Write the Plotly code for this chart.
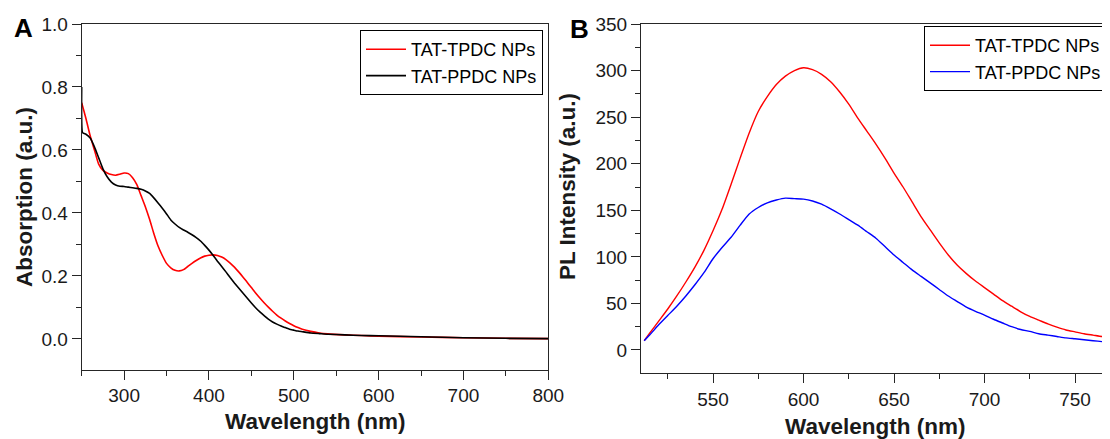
import plotly.graph_objects as go

W, H = 1110, 439
OFF = 8  # page body margin in the browser


def px(x):
    return (x - OFF) / W


def py(y):
    return 1 - (y - OFF) / H


# ---------------- Panel A: absorption ----------------
abs_wavelength = [250, 251, 255, 260, 265, 270, 275, 280, 285, 290, 295, 300, 305, 310, 315,
                  320, 325, 330, 335, 340, 345, 350, 355, 360, 365, 370, 375, 380, 385, 390,
                  395, 400, 405, 410, 415, 420, 425, 430, 435, 440, 445, 450, 455, 460, 465,
                  470, 475, 480, 485, 490, 495, 500, 505, 510, 520, 530, 540, 560, 580, 600,
                  650, 700, 750, 800]
abs_tpdc = [0.75, 0.74, 0.70, 0.645, 0.60, 0.555, 0.535, 0.527, 0.522, 0.52, 0.523, 0.527, 0.525,
            0.512, 0.49, 0.455, 0.42, 0.38, 0.335, 0.295, 0.265, 0.24, 0.226, 0.218, 0.216, 0.22,
            0.23, 0.24, 0.249, 0.257, 0.263, 0.266, 0.267, 0.265, 0.26, 0.252, 0.241, 0.228,
            0.213, 0.197, 0.18, 0.163, 0.146, 0.13, 0.115, 0.101, 0.088, 0.076, 0.066, 0.057,
            0.049, 0.042, 0.036, 0.031, 0.024, 0.019, 0.016, 0.013, 0.011, 0.009, 0.006, 0.004,
            0.002, 0.001]
abs_ppdc = [0.80, 0.655, 0.65, 0.638, 0.61, 0.575, 0.54, 0.515, 0.498, 0.489, 0.485, 0.484, 0.482,
            0.48, 0.478, 0.475, 0.47, 0.462, 0.448, 0.432, 0.415, 0.397, 0.378, 0.365, 0.354,
            0.346, 0.339, 0.331, 0.322, 0.311, 0.297, 0.282, 0.265, 0.247, 0.23, 0.213, 0.195,
            0.178, 0.162, 0.146, 0.13, 0.114, 0.099, 0.086, 0.074, 0.063, 0.054, 0.047, 0.041,
            0.036, 0.031, 0.028, 0.025, 0.023, 0.019, 0.017, 0.015, 0.013, 0.011, 0.01, 0.007,
            0.004, 0.002, 0.001]

# ---------------- Panel B: photoluminescence ----------------
pl_wavelength = [512, 515, 520, 525, 530, 535, 540, 545, 550, 555, 560, 565, 570, 575, 580, 585,
                 590, 595, 600, 605, 610, 615, 620, 625, 630, 635, 640, 645, 650, 655, 660, 665,
                 670, 675, 680, 685, 690, 695, 700, 705, 710, 715, 720, 725, 730, 735, 740, 745,
                 750, 755, 760, 765, 770, 775]
pl_tpdc = [10, 18, 31, 44, 58, 73, 89, 107, 128, 151, 178, 206, 233, 256, 272, 285, 294, 300, 303,
           301, 296, 288, 277, 264, 249, 235, 221, 206, 190, 175, 159, 143, 129, 115, 102, 91, 82,
           74, 67, 60, 53, 47, 41, 36, 32, 28, 24.5, 21.5, 19.5, 17.5, 16, 14.5, 13.5, 12.5]
pl_ppdc = [10, 16, 27, 37, 47, 58, 70, 83, 98, 110, 121, 134, 146, 153, 158, 161, 163, 162.5, 162,
           160, 156.5, 151.5, 146, 140, 134, 127, 120, 111, 102, 94, 86, 79, 72, 65, 58, 52, 46,
           41.5, 37.5, 33, 29, 25, 22, 20, 17.5, 16, 14.5, 13, 12, 11, 10, 9, 8, 7.5]

legend_names = ["TAT-TPDC NPs", "TAT-PPDC NPs"]

FONT = "Liberation Sans, Arial, Helvetica, sans-serif"
AX = "#262626"
TXT = "#1a1a1a"

fig = go.Figure()
fig.add_trace(go.Scatter(x=abs_wavelength, y=abs_tpdc, mode="lines", name=legend_names[0],
                         line=dict(color="#ff0000", width=1.6, shape="spline", smoothing=0.6),
                         xaxis="x", yaxis="y", legend="legend"))
fig.add_trace(go.Scatter(x=abs_wavelength, y=abs_ppdc, mode="lines", name=legend_names[1],
                         line=dict(color="#000000", width=1.6, shape="spline", smoothing=0.4),
                         xaxis="x", yaxis="y", legend="legend"))
fig.add_trace(go.Scatter(x=pl_wavelength, y=pl_tpdc, mode="lines", name=legend_names[0],
                         line=dict(color="#ff0000", width=1.4, shape="spline", smoothing=0.6),
                         xaxis="x2", yaxis="y2", legend="legend2"))
fig.add_trace(go.Scatter(x=pl_wavelength, y=pl_ppdc, mode="lines", name=legend_names[1],
                         line=dict(color="#0000ff", width=1.4, shape="spline", smoothing=0.6),
                         xaxis="x2", yaxis="y2", legend="legend2"))

common = dict(showgrid=False, zeroline=False, showline=True, linecolor=AX, linewidth=1,
              ticks="outside", ticklen=9, tickwidth=1, tickcolor=AX, automargin=False,
              tickfont=dict(family=FONT, size=19, color=TXT))

# right panel x axis: 550 nm at 713 px, 1.81 px per nm; it runs off the right edge
x2_lo = 550 + (641 - 713) / 1.81
x2_hi = 550 + (W + OFF - 713) / 1.81

fig.update_layout(
    width=W, height=H,
    margin=dict(l=0, r=0, t=0, b=0, autoexpand=False),
    paper_bgcolor="white", plot_bgcolor="white",
    font=dict(family=FONT, color=TXT),
    xaxis=dict(domain=[px(81.7), px(548.3)], range=[250, 800], dtick=100, tick0=0,
               mirror=True, anchor="y",
               minor=dict(ticks="outside", ticklen=5, dtick=50, tick0=0, tickcolor=AX, tickwidth=1),
               **common),
    yaxis=dict(domain=[py(369.5), py(24)], range=[-0.097, 1.0], dtick=0.2, tick0=0,
               tickformat=".1f", mirror=True, anchor="x",
               minor=dict(ticks="outside", ticklen=5, dtick=0.1, tick0=0, tickcolor=AX, tickwidth=1),
               **common),
    xaxis2=dict(domain=[px(641), 1.0], range=[x2_lo, x2_hi], dtick=50, tick0=0,
                mirror=True, anchor="y2",
                minor=dict(ticks="outside", ticklen=5, dtick=25, tick0=0, tickcolor=AX, tickwidth=1),
                **common),
    yaxis2=dict(domain=[py(373), py(24)], range=[-24.7, 350], dtick=50, tick0=0,
                mirror=False, anchor="x2",
                minor=dict(ticks="outside", ticklen=5, dtick=25, tick0=0, tickcolor=AX, tickwidth=1),
                **common),
    legend=dict(x=px(543), y=py(30), xanchor="right", yanchor="top",
                bordercolor="#000000", borderwidth=1, bgcolor="white",
                font=dict(family=FONT, size=18, color="#000"), itemwidth=40, tracegroupgap=0),
    legend2=dict(x=px(1107), y=py(26), xanchor="right", yanchor="top",
                 bordercolor="#000000", borderwidth=1, bgcolor="white",
                 font=dict(family=FONT, size=18, color="#000"), itemwidth=40, tracegroupgap=0),
    showlegend=True,
)

title_font = dict(family=FONT, size=22.5, color=TXT)
annotations = [
    dict(text="<b>A</b>", x=px(23), y=py(27.5), font=dict(family=FONT, size=26, color="#000")),
    dict(text="<b>B</b>", x=px(579), y=py(28.5), font=dict(family=FONT, size=26, color="#000")),
    dict(text="<b>Absorption (a.u.)</b>", x=px(24), y=py(197), textangle=-90, font=title_font),
    dict(text="<b>PL Intensity (a.u.)</b>", x=px(568), y=py(187), textangle=-90, font=title_font),
    dict(text="<b>Wavelength (nm)</b>", x=px(315), y=py(421), font=title_font),
    dict(text="<b>Wavelength (nm)</b>", x=px(875), y=py(426), font=title_font),
]
for a in annotations:
    a.update(xref="paper", yref="paper", xanchor="center", yanchor="middle", showarrow=False)
fig.update_layout(annotations=annotations)

fig.write_html("out.html")
